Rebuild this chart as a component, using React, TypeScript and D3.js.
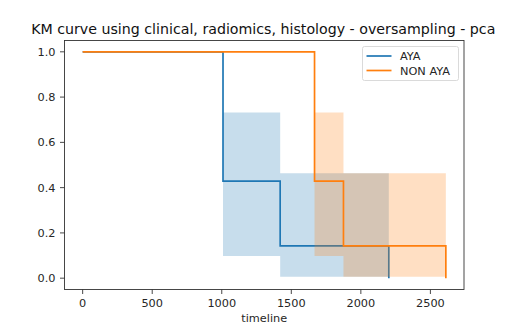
import React from "react";
import * as d3 from "d3";

const title = "KM curve using clinical, radiomics, histology - oversampling - pca";
const xLabel = "timeline";
const seriesNames = ["AYA", "NON AYA"];
const seriesColors = ["#1f77b4", "#ff7f0e"];

const ayaTimes = [0, 1009, 1420, 2201];
const ayaSurv = [1, 0.4286, 0.1429, 0];
const ayaLower = [1, 0.098, 0.006];
const ayaUpper = [1, 0.732, 0.464];

const nonAyaTimes = [0, 1667, 1875, 2611];
const nonAyaSurv = [1, 0.4286, 0.1429, 0];
const nonAyaLower = [1, 0.098, 0.006];
const nonAyaUpper = [1, 0.732, 0.464];

const xTicks = [0, 500, 1000, 1500, 2000, 2500];
const yTicks = [0, 0.2, 0.4, 0.6, 0.8, 1.0];

const W = 515;
const H = 331;
const left = 64.5;
const right = 464;
const top = 40.5;
const bottom = 289.5;

export default function App() {
  const x = d3.scaleLinear().domain([-130.55, 2741.55]).range([left, right]);
  const y = d3.scaleLinear().domain([-0.05, 1.05]).range([bottom, top]);

  const series = [
    { times: ayaTimes, surv: ayaSurv, lo: ayaLower, hi: ayaUpper },
    { times: nonAyaTimes, surv: nonAyaSurv, lo: nonAyaLower, hi: nonAyaUpper },
  ];

  const line = d3
    .line<[number, number]>()
    .x((d) => x(d[0]))
    .y((d) => y(d[1]))
    .curve(d3.curveStepAfter);

  const area = d3
    .area<{ t: number; lo: number; hi: number }>()
    .x((d) => x(d.t))
    .y0((d) => y(d.lo))
    .y1((d) => y(d.hi))
    .curve(d3.curveStepAfter);

  const font = "DejaVu Sans, sans-serif";
  const textColor = "#262626";
  const fs = 11.3;

  return (
    <svg
      width={W}
      height={H}
      style={{ position: "absolute", left: 0, top: 0, background: "#fff" }}
    >
      <rect x={0} y={0} width={W} height={H} fill="#fff" />
      <defs>
        <clipPath id="plotclip">
          <rect x={left} y={top} width={right - left} height={bottom - top} />
        </clipPath>
      </defs>
      <g clipPath="url(#plotclip)">
        {series.map((s, i) => {
          const bandPts = s.times.map((t, k) => ({
            t,
            lo: s.lo[Math.min(k, s.lo.length - 1)],
            hi: s.hi[Math.min(k, s.hi.length - 1)],
          }));
          const linePts = s.times.map((t, k) => [t, s.surv[k]] as [number, number]);
          return (
            <g key={i}>
              <path
                d={area(bandPts) || ""}
                fill={seriesColors[i]}
                fillOpacity={0.25}
                stroke="none"
              />
              <path
                d={line(linePts) || ""}
                fill="none"
                stroke={seriesColors[i]}
                strokeWidth={1.7}
              />
            </g>
          );
        })}
      </g>
      {/* axes frame */}
      <rect
        x={left}
        y={top}
        width={right - left}
        height={bottom - top}
        fill="none"
        stroke="#333"
        strokeWidth={0.9}
      />
      {/* x ticks */}
      {xTicks.map((t) => (
        <g key={"x" + t}>
          <line x1={x(t)} x2={x(t)} y1={bottom} y2={bottom + 4.5} stroke="#333" strokeWidth={0.9} />
          <text
            x={x(t)}
            y={bottom + 17.3}
            textAnchor="middle"
            fontFamily={font}
            fontSize={fs}
            fill={textColor}
          >
            {t}
          </text>
        </g>
      ))}
      {/* y ticks */}
      {yTicks.map((t) => (
        <g key={"y" + t}>
          <line x1={left - 4.5} x2={left} y1={y(t)} y2={y(t)} stroke="#333" strokeWidth={0.9} />
          <text
            x={left - 9}
            y={y(t)}
            dy="0.36em"
            textAnchor="end"
            fontFamily={font}
            fontSize={fs}
            fill={textColor}
          >
            {t.toFixed(1)}
          </text>
        </g>
      ))}
      <text
        x={(left + right) / 2}
        y={321.5}
        textAnchor="middle"
        fontFamily={font}
        fontSize={fs}
        fill={textColor}
      >
        {xLabel}
      </text>
      <text
        x={(left + right) / 2 - 1}
        y={34}
        textAnchor="middle"
        fontFamily={font}
        fontSize={14.2}
        fill="#111"
      >
        {title}
      </text>
      {/* legend */}
      <g>
        <rect
          x={362.5}
          y={46.5}
          width={96}
          height={34}
          rx={2}
          fill="#fff"
          fillOpacity={0.8}
          stroke="#d6d6d6"
          strokeWidth={0.9}
        />
        {seriesNames.map((n, i) => (
          <g key={n}>
            <line
              x1={366.5}
              x2={391.5}
              y1={56 + i * 14.5}
              y2={56 + i * 14.5}
              stroke={seriesColors[i]}
              strokeWidth={1.7}
            />
            <text
              x={400}
              y={56 + i * 14.5}
              dy="0.36em"
              fontFamily={font}
              fontSize={fs}
              fill={textColor}
            >
              {n}
            </text>
          </g>
        ))}
      </g>
    </svg>
  );
}
